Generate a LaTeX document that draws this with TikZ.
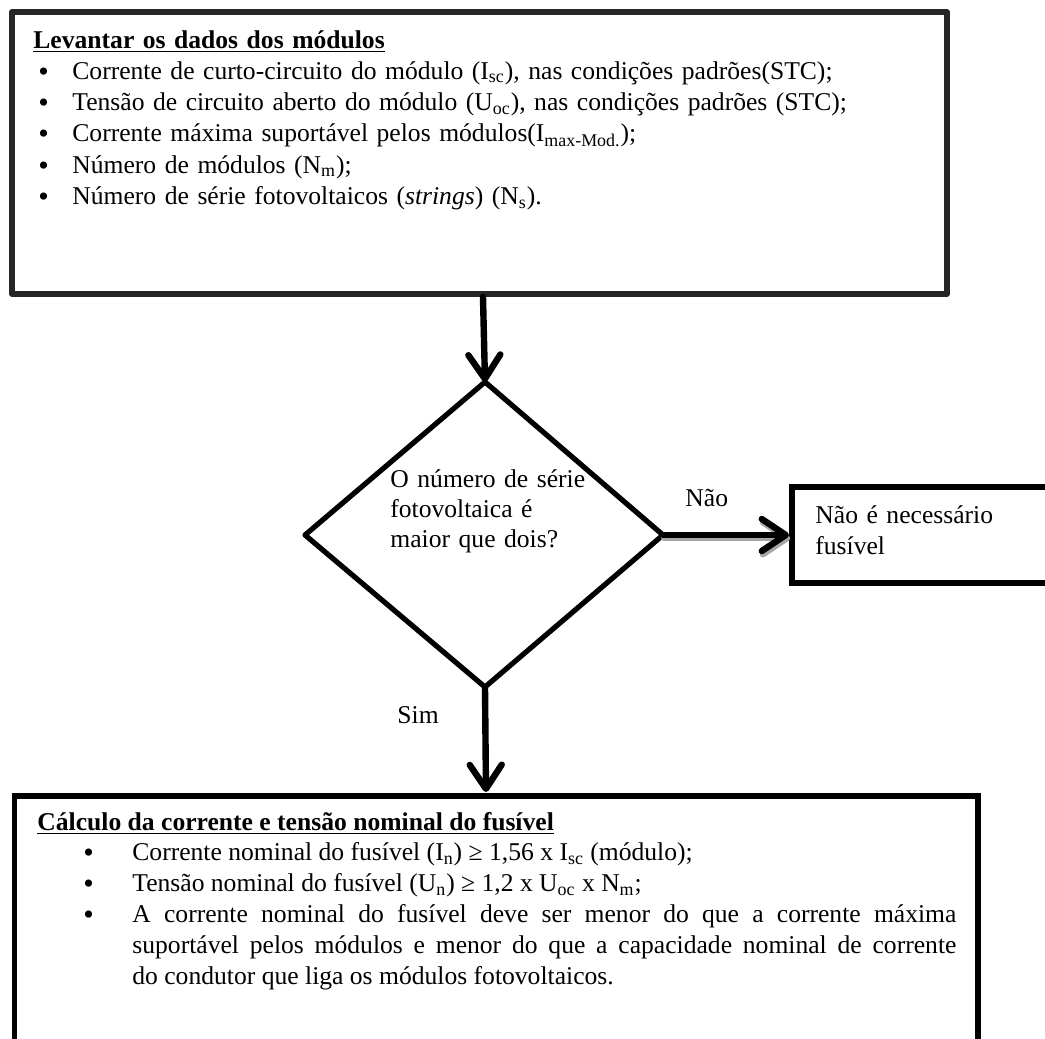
\documentclass[tikz,border=0pt]{standalone}
\RequirePackage{fontspec}
\setmainfont{Liberation Serif}
\RequirePackage{tikz}
\RequirePackage{tkz-euclide}
\usetikzlibrary{arrows.meta}

\tikzset{
  caixa/.style={line width=2.9pt},
  losango/.style={line width=2.6pt},
  seta/.style={line width=3.2pt, line cap=round,
    -{Straight Barb[length=12pt,width=16pt,round]}},
  sombra/.style={draw=black!35, transform canvas={shift={(0.6pt,-1.6pt)}}},
  texto/.style={inner sep=0pt, anchor=base west, align=left},
}
\newcommand{\bola}{\raisebox{-0.9pt}{\fontsize{15}{15}\selectfont\textbullet}}
\newcommand{\bitem}[2]{\par\hangindent=#2\hangafter=1\noindent
  \hspace*{#1}\makebox[\dimexpr#2-#1\relax][l]{\bola}}

\begin{document}
\begin{tikzpicture}[x=0.5pt,y=-0.5pt]
                    \useasboundingbox (0,0) rectangle (1045,1039);

                    % caixa de cima
                    \tkzDefPoint(12,12){A1}
                    \tkzDefPoint(947,12){A2}
                    \tkzDefPoint(947,294){A3}
                    \tkzDefPoint(12,294){A4}
                    \tkzDrawPolygon[caixa,draw=black!85](A1,A2,A3,A4)

                    \node[texto, text width=460pt,
                      font=\fontsize{12.8}{15.65}\selectfont] (dados) at (33,48)
                      {\textbf{\underline{Levantar os dados dos módulos}}
                      \bitem{2.5pt}{19.5pt}Corrente de curto-circuito do módulo (I\textsubscript{sc}), nas condições padrões(STC);
                      \bitem{2.5pt}{19.5pt}Tensão de circuito aberto do módulo (U\textsubscript{oc}), nas condições padrões (STC);
                      \bitem{2.5pt}{19.5pt}Corrente máxima suportável pelos módulos(I\textsubscript{max-Mod.});
                      \bitem{2.5pt}{19.5pt}Número de módulos (N\textsubscript{m});
                      \bitem{2.5pt}{19.5pt}Número de série fotovoltaicos (\textit{strings}) (N\textsubscript{s}).\par};

                    % losango
                    \tkzDefPoint(485,382){D1}
                    \tkzDefPoint(663,535){D2}
                    \tkzDefPoint(485,687){D3}
                    \tkzDefPoint(305,535){D4}
                    \tkzDrawPolygon[losango](D1,D2,D3,D4)

                    \node[texto, text width=130pt,
                      font=\fontsize{12.8}{15}\selectfont] (pergunta) at (390,487)
                      {O número de série\\fotovoltaica é\\maior que dois?};

                    % caixa da direita
                    \tkzDefPoint(1045,487){C1}
                    \tkzDefPoint(792,487){C2}
                    \tkzDefPoint(792,583){C3}
                    \tkzDefPoint(1045,583){C4}
                    \tkzDrawPolySeg[caixa](C1,C2,C3,C4)

                    \node[texto, text width=110pt,
                      font=\fontsize{12.8}{15.5}\selectfont] (naofus) at (815,523)
                      {Não é necessário\\fusível};

                    % caixa de baixo
                    \tkzDefPoint(14.5,1039){B1}
                    \tkzDefPoint(14.5,796){B2}
                    \tkzDefPoint(978,796){B3}
                    \tkzDefPoint(978,1039){B4}
                    \tkzDrawPolySeg[caixa](B1,B2,B3,B4)

                    \node[inner sep=0pt, anchor=base west, text width=459.5pt, align=justify,
                      font=\fontsize{12.8}{15.4}\selectfont] (calculo) at (37,830)
                      {\hyphenpenalty=10000\relax
                      \textbf{\underline{Cálculo da corrente e tensão nominal do fusível}}
                      \bitem{23pt}{47.5pt}Corrente nominal do fusível (I\textsubscript{n})\ ≥\ 1,56 x I\textsubscript{sc} (módulo);
                      \bitem{23pt}{47.5pt}Tensão nominal do fusível (U\textsubscript{n})\ ≥\ 1,2 x U\textsubscript{oc} x N\textsubscript{m};
                      \bitem{23pt}{47.5pt}A corrente nominal do fusível deve ser menor do que a corrente máxima\linebreak
                      suportável pelos módulos e menor do que a capacidade nominal de corrente\linebreak
                      do condutor que liga os módulos fotovoltaicos.\par};

                    % setas
                    \tkzDefPoint(483,297){P1}
                    \tkzDefPoint(789,535){P2}
                    \tkzDefPoint(486,792){P3}
                    \tkzDrawSegment[seta](P1,D1)
                    \tkzDrawSegment[seta,sombra](D2,P2)
                    \tkzDrawSegment[seta](D2,P2)
                    \tkzDrawSegment[seta](D3,P3)

                    \node[texto, font=\fontsize{12.8}{15}\selectfont] (nao) at (685,506) {Não};
                    \node[texto, font=\fontsize{12.8}{15}\selectfont] (sim) at (397,723) {Sim};
                \end{tikzpicture}
\end{document}
